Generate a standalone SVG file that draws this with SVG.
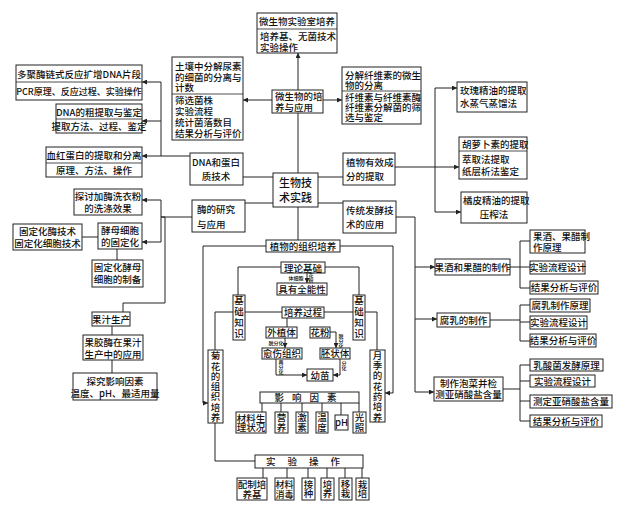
<svg xmlns="http://www.w3.org/2000/svg" width="621" height="505" viewBox="0 0 621 505">
<defs>
<marker id="ar" viewBox="0 0 8 8" refX="8" refY="4" markerWidth="5" markerHeight="5" orient="auto"><path d="M0,0L8,4L0,8z" fill="#222"/></marker>
<style>
.b{fill:#fff;stroke:#222;stroke-width:1}
.d{stroke:#222;stroke-width:0.8}
text{font-family:"Noto Sans CJK SC","Noto Sans",sans-serif;font-size:9.5px;fill:#111;font-weight:500}
.m{text-anchor:middle}
.s{font-size:5px}
.l{font-size:11px}
.v{writing-mode:vertical-rl;text-anchor:middle}
.c path,.c line{fill:none;stroke:#222;stroke-width:1}
.a{marker-end:url(#ar)}
</style>
</defs>
<rect width="621" height="505" fill="#fff"/>

<g class="c" id="connectors">
<line class="a" x1="298" y1="90" x2="298" y2="53"/>
<line x1="298" y1="113" x2="298" y2="173"/>
<line x1="298" y1="207" x2="298" y2="240"/>
<line class="a" x1="272" y1="100" x2="243" y2="100"/>
<line class="a" x1="323" y1="100" x2="342" y2="100"/>
<line x1="273" y1="177" x2="243" y2="177"/>
<line x1="318" y1="177" x2="343" y2="177"/>
<line x1="273" y1="203" x2="245" y2="203"/>
<line x1="318" y1="203" x2="343" y2="203"/>
<path class="a" d="M190,156H161V82H142"/>
<line class="a" x1="161" y1="121" x2="142" y2="121"/>
<line class="a" x1="161" y1="156" x2="142" y2="156"/>
<path class="a" d="M395,167H459"/>
<path class="a" d="M435,167V88H457"/>
<path class="a" d="M435,167V212H461"/>
<path class="a" d="M192,217H161V200H142"/>
<path class="a" d="M161,217V242H142"/>
<path d="M161,217H165V303H123V312"/>
<line x1="82" y1="237" x2="98" y2="237"/>
<line x1="117" y1="249" x2="117" y2="260"/>
<line x1="112" y1="326" x2="112" y2="335"/>
<line x1="112" y1="360" x2="112" y2="373"/>
<path class="a" d="M396,217H415V267H435"/>
<path class="a" d="M415,267V319H437"/>
<path class="a" d="M415,319V392H434"/>
<path d="M510,267H520M530,241H520V288H530M520,267H530"/>
<path d="M490,320H520M530,305H520V341H530M520,322H530"/>
<path d="M503,389H520M530,365H520V421H530M520,381H530M520,401H530"/>
<path class="a" d="M266,246H203V403H208"/>
<path class="a" d="M340,246H393V393H385"/>
<path d="M215,423V461H255"/>
<path d="M281,267H238V295M325,267H359V295"/>
<line class="a" x1="307" y1="273" x2="307" y2="283"/>
<path d="M282,312H215V350M324,312H377V350"/>
<line x1="287" y1="318" x2="287" y2="327"/>
<line class="a" x1="285" y1="338" x2="285" y2="348"/>
<path class="a" d="M330,332H336V348"/>
<path class="a" d="M276,359V375H307"/>
<path class="a" d="M340,359V375H333"/>
<path d="M262,403V412M281,403V412M302,403V412M322,403V412M341,403V415M359,403V412"/>
<path d="M263,468V478M287,468V478M308,468V478M327,468V478M345,468V478M362,468V478"/>
</g>

<g id="n_top"><rect class="b" x="257" y="13" width="80" height="40"/><line class="d" x1="257" y1="29" x2="337" y2="29"/>
<text x="297" y="25" class="m">微生物实验室培养</text><text x="260" y="40">培养基、无菌技术</text><text x="260" y="51">实验操作</text></g>

<g id="n_micro"><rect class="b" x="272" y="90" width="51" height="23"/><text x="275" y="100">微生物的培</text><text x="275" y="111">养与应用</text></g>

<g id="n_soil"><rect class="b" x="172" y="57" width="71" height="83"/><line class="d" x1="172" y1="94" x2="243" y2="94"/>
<text x="175" y="70">土壤中分解尿素</text><text x="175" y="81">的细菌的分离与</text><text x="175" y="91">计数</text>
<text x="175" y="104">筛选菌株</text><text x="175" y="115">实验流程</text><text x="175" y="126">统计菌落数目</text><text x="175" y="137">结果分析与评价</text></g>

<g id="n_cell"><rect class="b" x="342" y="67" width="79" height="57"/><line class="d" x1="342" y1="91" x2="421" y2="91"/>
<text x="345" y="79">分解纤维素的微生</text><text x="345" y="89">物的分离</text>
<text x="345" y="101">纤维素与纤维素酶</text><text x="345" y="111">纤维素分解菌的筛</text><text x="345" y="121">选与鉴定</text></g>

<g id="n_pcr"><rect class="b" x="16" y="65" width="126" height="35"/><line class="d" x1="16" y1="82" x2="142" y2="82"/>
<text x="79" y="78" class="m">多聚酶链式反应扩增DNA片段</text><text x="79" y="95" class="m" style="font-size:9px">PCR原理、反应过程、实验操作</text></g>

<g id="n_dna"><rect class="b" x="56" y="104" width="86" height="29"/><line class="d" x1="56" y1="119" x2="142" y2="119"/>
<text x="99" y="116" class="m">DNA的粗提取与鉴定</text><text x="99" y="130" class="m">提取方法、过程、鉴定</text></g>

<g id="n_hb"><rect class="b" x="46" y="147" width="96" height="30"/><line class="d" x1="46" y1="163" x2="142" y2="163"/>
<text x="94" y="159" class="m">血红蛋白的提取和分离</text><text x="94" y="174" class="m">原理、方法、操作</text></g>

<g id="n_dnatech"><rect class="b" x="190" y="153" width="53" height="32"/><text x="216" y="166" class="m">DNA和蛋白</text><text x="216" y="180" class="m">质技术</text></g>

<g id="n_root"><rect class="b" x="273" y="173" width="45" height="34"/><text x="295.5" y="187" class="m l">生物技</text><text x="295.5" y="202" class="m l">术实践</text></g>

<g id="n_plantext"><rect class="b" x="343" y="153" width="52" height="32"/><text x="346" y="166">植物有效成</text><text x="346" y="180">分的提取</text></g>

<g id="n_enzyme"><rect class="b" x="192" y="200" width="53" height="32"/><text x="197" y="213">酶的研究</text><text x="197" y="228">与应用</text></g>

<g id="n_ferm"><rect class="b" x="343" y="201" width="53" height="32"/><text x="346" y="214">传统发酵技</text><text x="346" y="228">术的应用</text></g>

<g id="n_rose"><rect class="b" x="457" y="82" width="70" height="30"/><text x="460" y="94">玫瑰精油的提取</text><text x="460" y="107">水蒸气蒸馏法</text></g>
<g id="n_carrot"><rect class="b" x="459" y="137" width="68" height="42"/><line class="d" x1="459" y1="151" x2="527" y2="151"/>
<text x="462" y="148">胡萝卜素的提取</text><text x="462" y="163">萃取法提取</text><text x="462" y="175">纸层析法鉴定</text></g>
<g id="n_orange"><rect class="b" x="461" y="192" width="66" height="31"/><text x="463" y="204">橘皮精油的提取</text><text x="494" y="218" class="m">压榨法</text></g>

<g id="n_wash"><rect class="b" x="74" y="189" width="68" height="26"/><text x="108" y="200" class="m">探讨加酶洗衣粉</text><text x="108" y="212" class="m">的洗涤效果</text></g>
<g id="n_yeastfix"><rect class="b" x="98" y="223" width="44" height="26"/><text x="120" y="234" class="m">酵母细胞</text><text x="120" y="246" class="m">的固定化</text></g>
<g id="n_fixtech"><rect class="b" x="13" y="224" width="69" height="26"/><text x="47.5" y="235" class="m">固定化酶技术</text><text x="47.5" y="247" class="m">固定化细胞技术</text></g>
<g id="n_yeastprep"><rect class="b" x="92" y="260" width="51" height="27"/><text x="117.5" y="271" class="m">固定化酵母</text><text x="117.5" y="283" class="m">细胞的制备</text></g>
<g id="n_juice"><rect class="b" x="92" y="312" width="38" height="14"/><text x="111" y="323" class="m">果汁生产</text></g>
<g id="n_pectin"><rect class="b" x="83" y="335" width="60" height="25"/><text x="113" y="346" class="m">果胶酶在果汁</text><text x="113" y="358" class="m">生产中的应用</text></g>
<g id="n_factor"><rect class="b" x="73" y="373" width="84" height="27"/><text x="115" y="385" class="m">探究影响因素</text><text x="115" y="397" class="m">温度、pH、最适用量</text></g>

<g id="n_wine"><rect class="b" x="435" y="259" width="75" height="16"/><text x="472.5" y="271" class="m">果酒和果醋的制作</text></g>
<g id="n_wine1"><rect class="b" x="530" y="230" width="55" height="23"/><text x="533" y="240">果酒、果醋制</text><text x="533" y="251">作原理</text></g>
<g id="n_wine2"><rect class="b" x="530" y="261" width="55" height="13"/><text x="557.5" y="271" class="m">实验流程设计</text></g>
<g id="n_wine3"><rect class="b" x="530" y="281" width="68" height="13"/><text x="564" y="291" class="m">结果分析与评价</text></g>

<g id="n_tofu"><rect class="b" x="437" y="313" width="53" height="14"/><text x="463.5" y="324" class="m">腐乳的制作</text></g>
<g id="n_tofu1"><rect class="b" x="530" y="299" width="60" height="13"/><text x="560" y="309" class="m">腐乳制作原理</text></g>
<g id="n_tofu2"><rect class="b" x="530" y="316" width="57" height="13"/><text x="558.5" y="326" class="m">实验流程设计</text></g>
<g id="n_tofu3"><rect class="b" x="530" y="334" width="66" height="13"/><text x="563" y="344" class="m">结果分析与评价</text></g>

<g id="n_pickle"><rect class="b" x="434" y="377" width="69" height="24"/><text x="468.5" y="387" class="m">制作泡菜并检</text><text x="468.5" y="398" class="m">测亚硝酸盐含量</text></g>
<g id="n_pickle1"><rect class="b" x="530" y="359" width="73" height="12"/><text x="566.5" y="369" class="m">乳酸菌发酵原理</text></g>
<g id="n_pickle2"><rect class="b" x="530" y="375" width="65" height="12"/><text x="562.5" y="385" class="m">实验流程设计</text></g>
<g id="n_pickle3"><rect class="b" x="530" y="395" width="82" height="13"/><text x="571" y="405" class="m">测定亚硝酸盐含量</text></g>
<g id="n_pickle4"><rect class="b" x="530" y="415" width="72" height="12"/><text x="566" y="425" class="m">结果分析与评价</text></g>

<g id="n_tissue"><rect class="b" x="266" y="240" width="74" height="12"/><text x="303" y="250" class="m">植物的组织培养</text></g>
<g id="n_theory"><rect class="b" x="281" y="262" width="44" height="11"/><text x="303" y="271.5" class="m">理论基础</text></g>
<g id="n_basicL"><rect class="b" x="233" y="295" width="12" height="45"/><text class="v" x="239" y="317.5" style="letter-spacing:1.5px">基础知识</text></g>
<g id="n_basicR"><rect class="b" x="353" y="295" width="12" height="45"/><text class="v" x="359" y="317.5" style="letter-spacing:1.5px">基础知识</text></g>
<text x="296" y="280" class="s m">体细胞</text>
<text x="311" y="278" class="s v">花粉</text>
<g id="n_toti"><rect class="b" x="277" y="283" width="50" height="12"/><text x="302" y="293" class="m">具有全能性</text></g>
<g id="n_process"><rect class="b" x="282" y="307" width="42" height="11"/><text x="303" y="316" class="m">培养过程</text></g>
<g id="n_explant"><rect class="b" x="266" y="327" width="31" height="11"/><text x="281.5" y="336" class="m">外植体</text></g>
<g id="n_pollen"><rect class="b" x="310" y="327" width="20" height="11"/><text x="320" y="336" class="m">花粉</text></g>
<text x="276" y="344.5" class="s m">脱分化</text>
<text x="341" y="341" class="s v">脱分化</text>
<g id="n_callus"><rect class="b" x="262" y="348" width="40" height="11"/><text x="282" y="357" class="m">愈伤组织</text></g>
<g id="n_embryo"><rect class="b" x="320" y="348" width="30" height="11"/><text x="335" y="357" class="m">胚状体</text></g>
<text x="281" y="367" class="s v">再分化</text>
<text x="344" y="366" class="s v">分化</text>
<g id="n_seedling"><rect class="b" x="307" y="369" width="26" height="12"/><text x="320" y="379" class="m">幼苗</text></g>

<g id="n_chrys"><rect class="b" x="208" y="350" width="15" height="73"/><text class="v" x="215.5" y="387" style="letter-spacing:0.8px">菊花的组织培养</text></g>
<g id="n_rose2"><rect class="b" x="370" y="350" width="15" height="72"/><text class="v" x="377.5" y="386.5" style="letter-spacing:0.8px">月季的花药培养</text></g>

<g id="n_influence"><rect class="b" x="260" y="392" width="99" height="11"/><text x="309.5" y="401" class="m" style="letter-spacing:8px">影响因素</text></g>
<g id="n_f1"><rect class="b" x="236" y="412" width="30" height="21"/><text x="251" y="422" class="m">材料生</text><text x="251" y="431" class="m">理状况</text></g>
<g id="n_f2"><rect class="b" x="275" y="412" width="13" height="21"/><text class="v" x="281.5" y="422.5">营养</text></g>
<g id="n_f3"><rect class="b" x="296" y="412" width="12" height="21"/><text class="v" x="302" y="422.5">激素</text></g>
<g id="n_f4"><rect class="b" x="316" y="412" width="12" height="21"/><text class="v" x="322" y="422.5">温度</text></g>
<g id="n_f5"><rect class="b" x="335" y="415" width="13" height="15"/><text x="341.5" y="426" class="m">pH</text></g>
<g id="n_f6"><rect class="b" x="353" y="412" width="13" height="21"/><text class="v" x="359.5" y="422.5">光照</text></g>

<g id="n_ops"><rect class="b" x="255" y="455" width="108" height="13"/><text x="309" y="465" class="m" style="letter-spacing:12px">实验操作</text></g>
<g id="n_o1"><rect class="b" x="237" y="478" width="30" height="22"/><text x="252" y="488" class="m">配制培</text><text x="252" y="498" class="m">养基</text></g>
<g id="n_o2"><rect class="b" x="275" y="478" width="19" height="22"/><text x="284.5" y="488" class="m" style="font-size:9px">材料</text><text x="284.5" y="498" class="m" style="font-size:9px">消毒</text></g>
<g id="n_o3"><rect class="b" x="302" y="478" width="13" height="22"/><text class="v" x="308.5" y="489">接种</text></g>
<g id="n_o4"><rect class="b" x="321" y="478" width="13" height="22"/><text class="v" x="327.5" y="489">培养</text></g>
<g id="n_o5"><rect class="b" x="339" y="478" width="13" height="22"/><text class="v" x="345.5" y="489">移栽</text></g>
<g id="n_o6"><rect class="b" x="356" y="478" width="13" height="22"/><text class="v" x="362.5" y="489">栽培</text></g>
</svg>
